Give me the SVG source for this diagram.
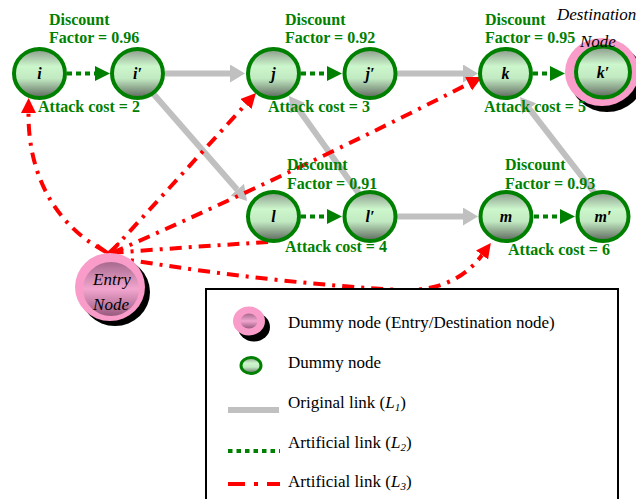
<svg xmlns="http://www.w3.org/2000/svg" width="636" height="499" viewBox="0 0 636 499">
<defs>
<linearGradient id="gg" x1="0" y1="0" x2="0" y2="1">
<stop offset="0" stop-color="#8a988a"/><stop offset="0.35" stop-color="#ccf6cc"/><stop offset="0.6" stop-color="#c2eac2"/><stop offset="1" stop-color="#5c665c"/>
</linearGradient>
<linearGradient id="pg" x1="0" y1="0" x2="0" y2="1">
<stop offset="0" stop-color="#a86a8e"/><stop offset="0.5" stop-color="#f2a6cf"/><stop offset="1" stop-color="#9a5a80"/>
</linearGradient>
<marker id="ag" markerUnits="userSpaceOnUse" markerWidth="16" markerHeight="18" refX="0" refY="9" orient="auto"><path d="M0,0 L15,9 L0,18 z" fill="#c0c0c0"/></marker>
<marker id="an" markerUnits="userSpaceOnUse" markerWidth="16" markerHeight="16" refX="0" refY="7.5" orient="auto"><path d="M0,0 L15,7.5 L0,15 z" fill="#008000"/></marker>
<marker id="ar" markerUnits="userSpaceOnUse" markerWidth="16" markerHeight="16" refX="0" refY="7.5" orient="auto"><path d="M0,0 L15,7.5 L0,15 z" fill="#ff0000"/></marker>
</defs>
<style>
.l1{fill:none;stroke:#c0c0c0;stroke-width:6;marker-end:url(#ag)}
.l2{fill:none;stroke:#008000;stroke-width:4;stroke-dasharray:5 4;marker-end:url(#an)}
.l3{fill:none;stroke:#ff0000;stroke-width:4;stroke-dasharray:12 7 3 7}
.l3a{marker-end:url(#ar)}
.nd{fill:url(#gg);stroke:#008000;stroke-width:4}
.nt{font-family:"Liberation Serif",serif;font-style:italic;font-weight:bold;font-size:16px;fill:#000;text-anchor:middle}
.gl{font-family:"Liberation Serif",serif;font-weight:bold;font-size:16px;fill:#008000}
.it{font-family:"Liberation Serif",serif;font-style:italic;font-size:17px;fill:#000}
.lg{font-family:"Liberation Serif",serif;font-size:17px;fill:#000}
.pk{fill:#f99cc9}
</style>
<g id="connectors">
<path class="l1" d="M165,73.5 L230,73.5"/>
<path class="l1" d="M396,73.5 L463,73.5"/>
<path class="l1" d="M396,216.5 L463,216.5"/>
<path class="l1" d="M150,90 L237.2,189.7"/>
<path class="l1" d="M362,198 L297.8,108.2"/>
<path class="l1" d="M600,200 L529.3,108.8"/>
<path class="l2" d="M67,73.5 L95,73.5"/>
<path class="l2" d="M301,73.5 L327,73.5"/>
<path class="l2" d="M533,73.5 L550,73.5"/>
<path class="l2" d="M301,216.5 L327,216.5"/>
<path class="l2" d="M534,216.5 L560,216.5"/>
<path class="l3 l3a" d="M106,252 C55,225 28,175 28.5,113"/>
<path class="l3 l3a" d="M110,253 L245.9,104.1"/>
<path class="l3 l3a" d="M112,253 Q300,170 468.6,83.8"/>
<path class="l3" d="M268,242 Q190,247 110,253"/>
<path class="l3 l3a" d="M112,257 Q260,282 400,290 Q455,292 482,255"/>
<path d="M97,245 L108,253 L119,243" fill="none" stroke="#ff0000" stroke-width="3"/>
</g>
<g id="node-i"><ellipse class="nd" cx="39.5" cy="73.5" rx="25.5" ry="24.5"/><text class="nt" x="39.5" y="79">i</text></g>
<g id="node-i2"><ellipse class="nd" cx="137.5" cy="73.5" rx="25.5" ry="24.5"/><text class="nt" x="137.5" y="79">i′</text></g>
<g id="node-j"><ellipse class="nd" cx="273.5" cy="73.5" rx="25.5" ry="24.5"/><text class="nt" x="273.5" y="79">j</text></g>
<g id="node-j2"><ellipse class="nd" cx="370" cy="73.5" rx="25.5" ry="24.5"/><text class="nt" x="370" y="79">j′</text></g>
<g id="node-k"><ellipse class="nd" cx="505.5" cy="73.5" rx="25.5" ry="24.5"/><text class="nt" x="505.5" y="79">k</text></g>
<g id="node-k2">
<ellipse cx="607" cy="78" rx="37" ry="34" fill="#000"/>
<ellipse class="pk" cx="602" cy="72" rx="37" ry="34"/>
<ellipse class="nd" cx="603" cy="72" rx="27" ry="25.5"/><text class="nt" x="603" y="78">k′</text>
<text class="it" x="557" y="20">Destination</text><text class="it" x="580" y="47">Node</text>
</g>
<g id="node-l"><ellipse class="nd" cx="273.5" cy="216.5" rx="25.5" ry="24.5"/><text class="nt" x="273.5" y="222">l</text></g>
<g id="node-l2"><ellipse class="nd" cx="370" cy="216.5" rx="25.5" ry="24.5"/><text class="nt" x="370" y="222">l′</text></g>
<g id="node-m"><ellipse class="nd" cx="506" cy="216.5" rx="25.5" ry="24.5"/><text class="nt" x="506" y="222">m</text></g>
<g id="node-m2"><ellipse class="nd" cx="603" cy="216.5" rx="25.5" ry="24.5"/><text class="nt" x="603" y="222">m′</text></g>
<g id="node-entry">
<ellipse cx="115" cy="292" rx="35" ry="34" fill="#000"/>
<ellipse class="pk" cx="110" cy="287" rx="35" ry="34"/>
<ellipse cx="111" cy="289" rx="28" ry="27" fill="url(#pg)"/>
<text class="it" x="112" y="285" text-anchor="middle">Entry</text>
<text class="it" x="111" y="310" text-anchor="middle">Node</text>
</g>
<g id="labels">
<text class="gl" x="49" y="25">Discount</text><text class="gl" x="49" y="43">Factor = 0.96</text>
<text class="gl" x="285" y="25">Discount</text><text class="gl" x="285" y="43">Factor = 0.92</text>
<text class="gl" x="485" y="25">Discount</text><text class="gl" x="485" y="43">Factor = 0.95</text>
<text class="gl" x="287" y="170">Discount</text><text class="gl" x="287" y="189">Factor = 0.91</text>
<text class="gl" x="505" y="170">Discount</text><text class="gl" x="505" y="189">Factor = 0.93</text>
<text class="gl" x="38" y="112">Attack cost = 2</text>
<text class="gl" x="268" y="112">Attack cost = 3</text>
<text class="gl" x="484" y="112">Attack cost = 5</text>
<text class="gl" x="285" y="252">Attack cost = 4</text>
<text class="gl" x="508" y="255">Attack cost = 6</text>
</g>
<g id="legend">
<rect x="206" y="289" width="412" height="220" fill="#fff" stroke="#000" stroke-width="2"/>
<ellipse cx="254" cy="327" rx="16" ry="14.5" fill="#000"/>
<ellipse class="pk" cx="249" cy="321" rx="16" ry="14.5"/>
<ellipse cx="249" cy="321" rx="8.5" ry="7.5" fill="url(#pg)"/>
<text class="lg" x="288" y="328">Dummy node (Entry/Destination node)</text>
<ellipse cx="251" cy="365.5" rx="10" ry="8" fill="url(#gg)" stroke="#008000" stroke-width="3"/>
<text class="lg" x="288" y="368">Dummy node</text>
<line x1="228" y1="410" x2="279" y2="410" stroke="#c0c0c0" stroke-width="6"/>
<text class="lg" x="288" y="408">Original link (<tspan font-style="italic">L</tspan><tspan font-style="italic" font-size="11" dy="3">1</tspan><tspan dy="-3">)</tspan></text>
<line x1="228" y1="451" x2="280" y2="451" stroke="#008000" stroke-width="4" stroke-dasharray="4.5 4"/>
<text class="lg" x="288" y="448">Artificial link (<tspan font-style="italic">L</tspan><tspan font-style="italic" font-size="11" dy="3">2</tspan><tspan dy="-3">)</tspan></text>
<line x1="228" y1="484" x2="280" y2="484" stroke="#ff0000" stroke-width="4" stroke-dasharray="17 9 4 9"/>
<text class="lg" x="288" y="487">Artificial link (<tspan font-style="italic">L</tspan><tspan font-style="italic" font-size="11" dy="3">3</tspan><tspan dy="-3">)</tspan></text>
</g>
</svg>
